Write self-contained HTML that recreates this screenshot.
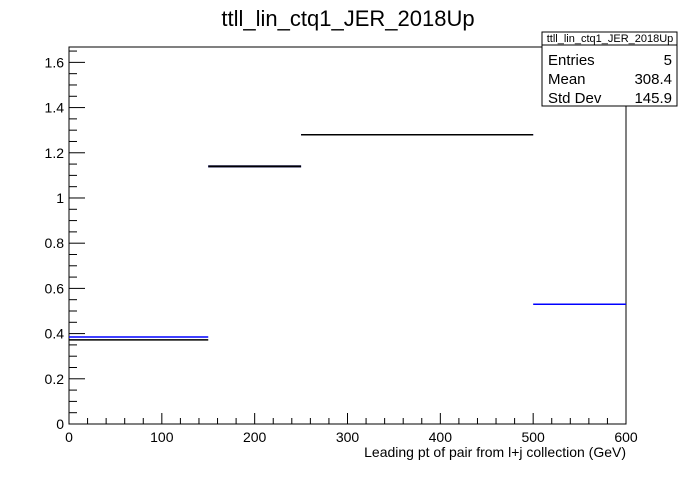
<!DOCTYPE html>
<html><head><meta charset="utf-8"><style>
body{margin:0;background:#fff;font-family:"Liberation Sans",Arial,sans-serif}
</style></head><body>
<svg width="696" height="472" xmlns="http://www.w3.org/2000/svg" font-family="Liberation Sans, Arial, sans-serif">
<rect width="696" height="472" fill="#fff"/>
<text x="348" y="26" font-size="22" text-anchor="middle">ttll_lin_ctq1_JER_2018Up</text>
<g id="axes"></g>
<g id="marks"></g>
<g>
<rect x="542" y="32" width="135" height="74" fill="#fff" stroke="#000"/>
<line x1="542" y1="45" x2="677" y2="45" stroke="#000"/>
<text x="610" y="42" font-size="11" text-anchor="middle">ttll_lin_ctq1_JER_2018Up</text>
<text x="548" y="65" font-size="15">Entries</text><text x="672" y="65" font-size="15" text-anchor="end">5</text>
<text x="548" y="84" font-size="15">Mean</text><text x="672" y="84" font-size="15" text-anchor="end">308.4</text>
<text x="548" y="103" font-size="15">Std Dev</text><text x="672" y="103" font-size="15" text-anchor="end">145.9</text>
</g>
<text x="626" y="457" font-size="14" text-anchor="end">Leading pt of pair from l+j collection (GeV)</text>
</svg>
<script>
const binEdges=[0,150,250,500,600];
const blueValues=[0.385,1.14,1.28,0.53];
const blackValues=[0.372,1.14,1.28,null];
const xTicks=[0,100,200,300,400,500,600];
const yTicks=[0,0.2,0.4,0.6,0.8,1,1.2,1.4,1.6];
const X0=69,X1=626,Y0=424,Y1=47,YMAX=1.668;
const sx=v=>X0+(v/600)*(X1-X0), sy=v=>Y0-(v/YMAX)*(Y0-Y1);
const NS="http://www.w3.org/2000/svg";
const ax=document.getElementById('axes'), mk=document.getElementById('marks');
function ln(p,x1,y1,x2,y2,c,w){const l=document.createElementNS(NS,'line');l.setAttribute('x1',x1);l.setAttribute('y1',y1);l.setAttribute('x2',x2);l.setAttribute('y2',y2);l.setAttribute('stroke',c);l.setAttribute('stroke-width',w);p.appendChild(l);return l;}
function tx(p,x,y,s,a){const t=document.createElementNS(NS,'text');t.setAttribute('x',x);t.setAttribute('y',y);t.setAttribute('font-size',14);t.setAttribute('text-anchor',a);t.textContent=s;p.appendChild(t);return t;}
const fr=document.createElementNS(NS,'rect');fr.setAttribute('x',X0);fr.setAttribute('y',Y1);fr.setAttribute('width',X1-X0);fr.setAttribute('height',Y0-Y1);fr.setAttribute('fill','none');fr.setAttribute('stroke','#000');


ax.appendChild(fr);
for(let v=0;v<=600;v+=20){const x=sx(v);ln(ax,x,Y0,x,Y0-(v%100===0?11:6),'#000',1);}
xTicks.forEach(v=>{const t=tx(ax,sx(v),442,String(v),'middle');});
for(let i=0;i*0.05<=YMAX;i++){const y=sy(i*0.05);ln(ax,X0,y,X0+(i%4===0?16:8),y,'#000',1);}
yTicks.forEach(v=>{const t=tx(ax,64,sy(v)+5,String(v),'end');});
function series(vals,c,name){vals.forEach((v,i)=>{if(v==null)return;const l=ln(mk,sx(binEdges[i]),sy(v),sx(binEdges[i+1]),sy(v),c,i===1?2:1.5);});}
series(blueValues,'#0000ff','blue-hist');
series(blackValues,'#000','black-hist');
</script>
</body></html>
